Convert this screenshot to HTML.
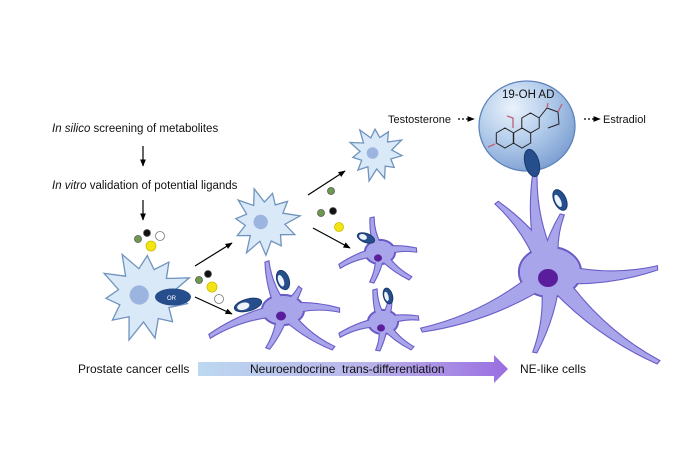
<!DOCTYPE html>
<html><head><meta charset="utf-8"><style>
html,body{margin:0;padding:0;background:#fff;width:700px;height:466px;overflow:hidden}
svg{display:block;font-family:"Liberation Sans",Arial,sans-serif}
</style></head><body>
<svg id="s" width="700" height="466" viewBox="0 0 700 466" xmlns="http://www.w3.org/2000/svg">
<defs>
<linearGradient id="bar" x1="0" x2="1" y1="0" y2="0"><stop offset="0" stop-color="#bcd8f0"/><stop offset="0.55" stop-color="#b9b3ea"/><stop offset="1" stop-color="#9a6ee0"/></linearGradient>
<radialGradient id="sph" cx="0.35" cy="0.3" r="0.75"><stop offset="0" stop-color="#eaf2fb"/><stop offset="0.5" stop-color="#b4cdeb"/><stop offset="1" stop-color="#7c9fd2"/></radialGradient>
<marker id="ah" viewBox="0 0 10 10" refX="9" refY="5" markerWidth="6" markerHeight="6" orient="auto"><path d="M0,1 L10,5 L0,9z" fill="#000"/></marker>
</defs>
<g id="g"></g>
<g font-size="11.5" fill="#111">
<text x="52" y="132"><tspan font-style="italic">In silico</tspan> screening of metabolites</text>
<text x="52" y="189"><tspan font-style="italic">In vitro</tspan> validation of potential ligands</text>
<text x="78" y="373" font-size="12">Prostate cancer cells</text>
<text x="520" y="373" font-size="12">NE-like cells</text>
<text x="388" y="123" font-size="11">Testosterone</text>
<text x="603" y="123" font-size="11">Estradiol</text>
</g>
<g stroke="#000" stroke-width="1.2" fill="none">
<line x1="143" y1="146" x2="143" y2="166" marker-end="url(#ah)"/>
<line x1="143" y1="200" x2="143" y2="220" marker-end="url(#ah)"/>
<line x1="195" y1="266" x2="232" y2="243" marker-end="url(#ah)"/>
<line x1="195" y1="297" x2="232" y2="314" marker-end="url(#ah)"/>
<line x1="308" y1="195" x2="345" y2="171" marker-end="url(#ah)"/>
<line x1="313" y1="228" x2="350" y2="248" marker-end="url(#ah)"/>
<line x1="458" y1="119" x2="474" y2="119" stroke-dasharray="2,2" marker-end="url(#ah)"/>
<line x1="584" y1="119" x2="600" y2="119" stroke-dasharray="2,2" marker-end="url(#ah)"/>
</g>
<path d="M198,362 H494 V355 L508,369 L494,383 V376 H198z" fill="url(#bar)"/>
<text x="250" y="373" font-size="12" fill="#111" xml:space="preserve">Neuroendocrine  trans-differentiation</text>
</svg>
<script>
const NS="http://www.w3.org/2000/svg",g=document.getElementById('g');
function el(t,a){const e=document.createElementNS(NS,t);for(const k in a)e.setAttribute(k,a[k]);g.appendChild(e);return e;}
function star(cx,cy,ro,ri,n,rot){let p=[];for(let i=0;i<2*n;i++){const r=i%2?ri:ro*(0.9+0.1*Math.sin(i*2.3));const a=rot+i*Math.PI/n;p.push((cx+r*Math.cos(a)).toFixed(1)+','+(cy+r*Math.sin(a)).toFixed(1));}
el('polygon',{points:p.join(' '),fill:'#d9e9f7',stroke:'#6f93bd','stroke-width':1.3});
el('circle',{cx:cx-ro*0.12,cy:cy,r:ro*0.2,fill:'#9cb5e0'});}
function proc(cx,cy,tx,ty,w,bend){const dx=tx-cx,dy=ty-cy,L=Math.hypot(dx,dy),nx=-dy/L,ny=dx/L,t=1.6;bend=bend||0.15;
const mx=cx+dx*0.5+nx*L*bend,my=cy+dy*0.5+ny*L*bend;
return `M${cx+nx*w},${cy+ny*w} Q${mx+nx*w*0.45},${my+ny*w*0.45} ${tx+nx*t},${ty+ny*t} L${tx-nx*t},${ty-ny*t} Q${mx-nx*w*0.45},${my-ny*w*0.45} ${cx-nx*w},${cy-ny*w}Z`;}
function ne(cx,cy,rx,ry,tips,w,nr){let d=tips.map((t,i)=>proc(cx,cy,t[0],t[1],w,(i%2?0.12:-0.12))).join(' ');
el('path',{d:d,fill:'none',stroke:'#6a5cc8','stroke-width':2.2});
el('ellipse',{cx:cx,cy:cy,rx:rx+1,ry:ry+1,fill:'none',stroke:'#6a5cc8','stroke-width':2.2});
el('path',{d:d,fill:'#a9a5ea'});el('ellipse',{cx:cx,cy:cy,rx:rx,ry:ry,fill:'#a9a5ea'});
el('ellipse',{cx:cx-2,cy:cy+6,rx:nr,ry:nr*0.9,fill:'#5a1e9c'});}
function rec(cx,cy,rx,ry,ang,white){el('ellipse',{cx:cx,cy:cy,rx:rx,ry:ry,fill:'#274e8c',stroke:'#173a70','stroke-width':1,transform:`rotate(${ang} ${cx} ${cy})`});
if(white){const a=ang*Math.PI/180,ex=cx-rx*0.35*Math.cos(a),ey=cy-rx*0.35*Math.sin(a);el('ellipse',{cx:ex,cy:ey,rx:rx*0.45,ry:ry*0.6,fill:'#eef4fb',transform:`rotate(${ang} ${ex} ${ey})`});}}
function dot(x,y,r,f,s){el('circle',{cx:x,cy:y,r:r,fill:f,stroke:s||'#555','stroke-width':0.8});}
function hex(cx,cy,r){let p=[];for(let i=0;i<6;i++){const a=Math.PI/6+i*Math.PI/3;p.push((cx+r*Math.cos(a)).toFixed(1)+','+(cy+r*Math.sin(a)).toFixed(1));}return 'M'+p.join(' L')+'Z ';}
star(145,295,48,27,11,0.2);
el('ellipse',{cx:173,cy:297,rx:18,ry:8.5,fill:'#274e8c'});
el('text',{x:167,y:300,'font-size':6,fill:'#fff'}).textContent='OR';
star(265,222,36,20,11,0.4);
star(376,153,29,16,11,0.1);
dot(138,239,3.5,'#6e9a4e');dot(147,233,3.5,'#111');dot(160,236,4.5,'#fff','#777');dot(151,246,5,'#f2e513','#cdbd00');
dot(199,280,3.5,'#6e9a4e');dot(208,274,3.5,'#111');dot(212,287,5,'#f2e513','#cdbd00');dot(219,299,4.5,'#fff','#777');
dot(331,191,3.5,'#6e9a4e');dot(321,213,3.5,'#6e9a4e');dot(333,211,3.5,'#111');dot(339,227,4.5,'#f2e513','#cdbd00');
ne(283,310,20,14,[[267,262],[210,336],[339,310],[333,348],[268,348],[300,288]],6,5);
rec(248,305,14,6,-15,true);rec(283,280,6,10,-20,true);
ne(380,252,14,11,[[372,218],[340,266],[416,250],[410,278],[372,282]],4.5,4);
rec(366,238,9,4.5,20,true);
ne(383,322,14,11,[[375,290],[340,335],[418,318],[412,348],[378,350],[390,300]],4.5,4);
rec(388,296,4.5,8,-15,true);
ne(550,272,30,24,[[535,172],[497,203],[422,330],[657,268],[535,352],[658,362],[562,215]],10,10);
rec(560,200,6,11,-25,true);
el('ellipse',{cx:527,cy:126,rx:48,ry:45,fill:'url(#sph)',stroke:'#5f84bd','stroke-width':1.3});
rec(532,163,7,14,-15,false);
el('text',{x:502,y:98,'font-size':11.5,fill:'#111'}).textContent='19-OH AD';
let st=hex(505,138,10)+hex(522,138,10)+hex(530.5,123,10)+'M539,118 L547,108 L558,112 L559,124 L548,128';
el('path',{d:st,fill:'none',stroke:'#222','stroke-width':1});
el('path',{d:'M495,144 l-7,3 M513,128 v-10 l-6,-2 M558,112 l4,-8 M547,108 l1,-5',fill:'none',stroke:'#c06078','stroke-width':1.3});
</script>
</body></html>
